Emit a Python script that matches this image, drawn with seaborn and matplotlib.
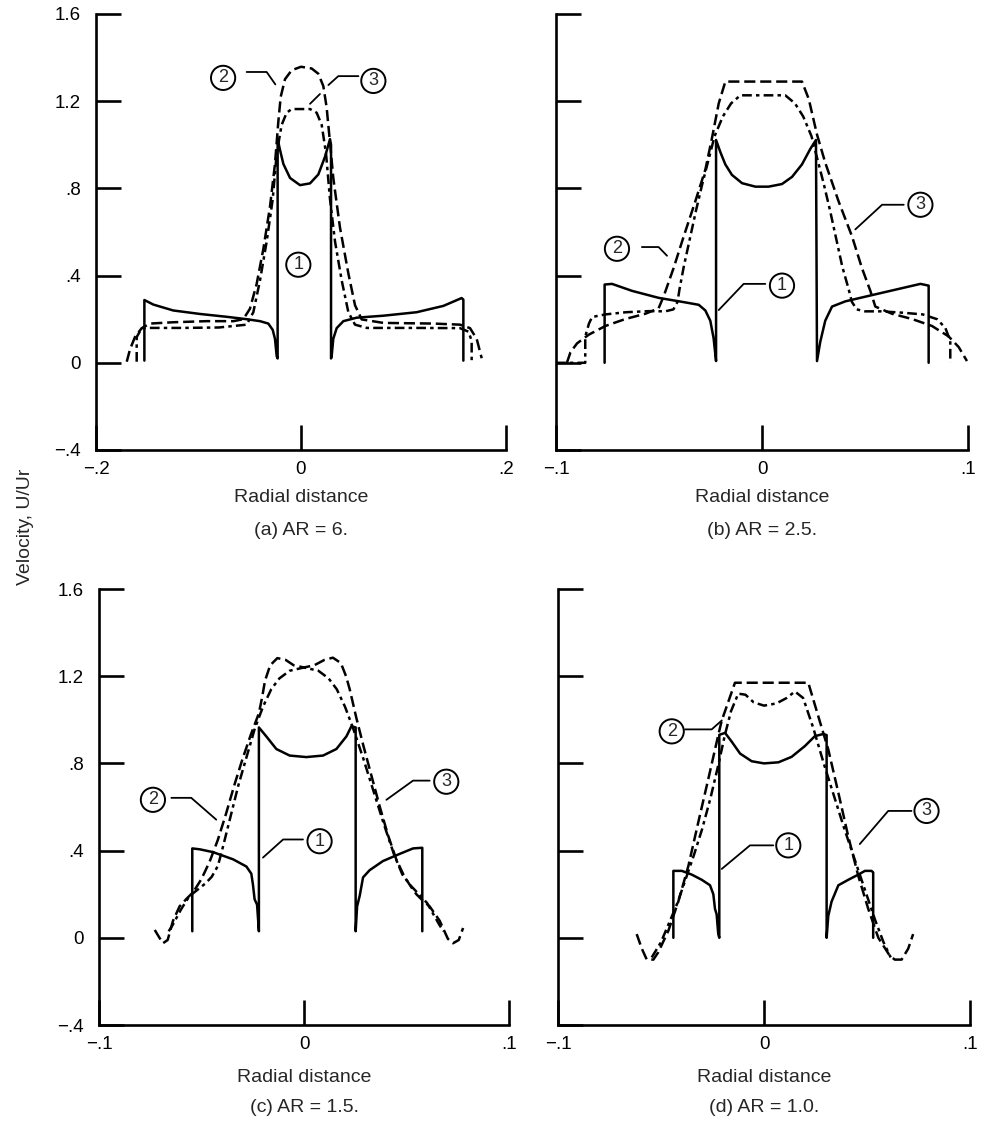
import numpy as np
import pandas as pd
import matplotlib
matplotlib.use("Agg")
import matplotlib.pyplot as plt
import seaborn as sns

sns.set_style("ticks")
plt.rcParams['font.family'] = ['Liberation Sans', 'DejaVu Sans']
plt.rcParams['lines.scale_dashes'] = False
plt.rcParams['axes.unicode_minus'] = True

# ---------------- data ----------------
# Panel (a) AR = 6
a1_x = [-0.1528, -0.1528, -0.144, -0.1246, -0.0985, -0.0725, -0.053, -0.04, -0.0319, -0.0276, -0.0254, -0.0237,
        -0.0228, -0.0228, -0.0205, -0.0172, -0.0107, -0.001, 0.0088, 0.0169, 0.0234, 0.0283, 0.0293, 0.0293,
        0.0299, 0.0315, 0.0348, 0.0413, 0.0543, 0.0803, 0.1128, 0.1389, 0.1567, 0.1584, 0.1584]
a1_y = [0.01, 0.288, 0.267, 0.24, 0.224, 0.211, 0.2, 0.191, 0.18, 0.151, 0.11, 0.03,
        0.02, 1.026, 0.977, 0.912, 0.848, 0.815, 0.823, 0.864, 0.945, 1.026, 1.0, 0.02,
        0.03, 0.11, 0.159, 0.191, 0.207, 0.216, 0.232, 0.261, 0.297, 0.29, 0.01]
a2_x = [-0.170, -0.1668, -0.162, -0.1554, -0.1473, -0.1246, -0.092, -0.066, -0.0563, -0.0498, -0.0433, -0.0367,
        -0.0302, -0.0254, -0.0221, -0.0198, -0.0156, -0.0091, 0.0, 0.0104, 0.0169, 0.0218, 0.025, 0.0283,
        0.0315, 0.038, 0.0462, 0.0527, 0.0592, 0.0803, 0.1291, 0.1551, 0.1649, 0.1714, 0.1763]
a2_y = [0.005, 0.062, 0.118, 0.159, 0.18, 0.186, 0.191, 0.191, 0.2, 0.248, 0.361, 0.523,
        0.718, 0.912, 1.107, 1.22, 1.301, 1.342, 1.358, 1.35, 1.326, 1.269, 1.172, 1.01,
        0.848, 0.621, 0.41, 0.264, 0.199, 0.183, 0.18, 0.175, 0.159, 0.11, 0.021]
a3_x = [-0.1603, -0.1603, -0.1554, -0.1473, -0.1148, -0.08, -0.053, -0.0465, -0.04, -0.0335, -0.0276, -0.0237,
        -0.0189, -0.014, -0.0091, 0.0088, 0.0153, 0.0202, 0.0244, 0.0283, 0.0332, 0.0397, 0.0462, 0.0527,
        0.0641, 0.1128, 0.1551, 0.1633, 0.1665, 0.1665]
a3_y = [0.005, 0.118, 0.159, 0.16, 0.16, 0.162, 0.175, 0.232, 0.378, 0.556, 0.75, 0.961,
        1.091, 1.147, 1.164, 1.164, 1.147, 1.091, 0.961, 0.75, 0.556, 0.378, 0.232, 0.175,
        0.16, 0.16, 0.159, 0.143, 0.102, 0.005]

# Panel (b) AR = 2.5
b1_x = [-0.0764, -0.0764, -0.0728, -0.0631, -0.0502, -0.0372, -0.0307, -0.0275, -0.0251, -0.0235, -0.0223,
        -0.0223, -0.0202, -0.0178, -0.0146, -0.0097, -0.0032, 0.0032, 0.0097, 0.0146, 0.0194, 0.0235, 0.0262,
        0.0267, 0.0283, 0.0307, 0.034, 0.0405, 0.055, 0.0696, 0.0769, 0.0809, 0.0809]
b1_y = [0.0, 0.359, 0.362, 0.33, 0.298, 0.277, 0.266, 0.24, 0.193, 0.113, 0.008,
        1.022, 0.966, 0.91, 0.862, 0.824, 0.808, 0.808, 0.82, 0.853, 0.91, 0.982, 1.022,
        0.008, 0.097, 0.193, 0.258, 0.282, 0.314, 0.346, 0.362, 0.354, 0.0]
b2_x = [-0.0947, -0.093, -0.0898, -0.0841, -0.076, -0.0663, -0.0566, -0.0502, -0.0477, -0.0429, -0.038,
        -0.0324, -0.0275, -0.0243, -0.021, -0.0178, 0.0194, 0.0227, 0.0267, 0.0307, 0.0372, 0.0437, 0.0485,
        0.0526, 0.055, 0.0631, 0.0728, 0.0825, 0.0906, 0.0955, 0.0995]
b2_y = [0.0, 0.048, 0.089, 0.129, 0.169, 0.201, 0.225, 0.25, 0.306, 0.435, 0.58,
        0.74, 0.886, 1.03, 1.19, 1.29, 1.29, 1.21, 1.047, 0.918, 0.74, 0.58, 0.435,
        0.33, 0.258, 0.225, 0.201, 0.169, 0.121, 0.072, 0.008]
b3_x = [-0.1, -0.0858, -0.0858, -0.084, -0.0825, -0.076, -0.066, -0.055, -0.047, -0.043, -0.041, -0.040,
        -0.038, -0.035, -0.032, -0.029, -0.026, -0.023, -0.019, -0.015, -0.0105, 0.0113, 0.016, 0.02, 0.024,
        0.027, 0.030, 0.033, 0.036, 0.039, 0.042, 0.0436, 0.046, 0.05, 0.058, 0.068, 0.078, 0.085, 0.089,
        0.0914, 0.0914]
b3_y = [0.0, 0.0, 0.12, 0.18, 0.21, 0.222, 0.232, 0.237, 0.236, 0.245, 0.28, 0.34,
        0.44, 0.57, 0.7, 0.82, 0.93, 1.04, 1.13, 1.19, 1.227, 1.227, 1.19, 1.13, 1.04,
        0.93, 0.82, 0.7, 0.57, 0.44, 0.34, 0.28, 0.245, 0.236, 0.236, 0.23, 0.222, 0.2, 0.16,
        0.1, 0.0]

# Panel (c) AR = 1.5
c1_x = [-0.0545, -0.0545, -0.0509, -0.0444, -0.0346, -0.0281, -0.0257, -0.0249, -0.0241, -0.0229, -0.022,
        -0.022, -0.0184, -0.0135, -0.007, 0.0011, 0.0093, 0.0158, 0.0207, 0.0231, 0.0252, 0.0252, 0.0259,
        0.0272, 0.0288, 0.032, 0.0385, 0.0467, 0.0532, 0.0577, 0.0577]
c1_y = [0.03, 0.41, 0.406, 0.393, 0.36, 0.327, 0.294, 0.244, 0.177, 0.152, 0.03,
        0.965, 0.924, 0.866, 0.836, 0.829, 0.836, 0.866, 0.924, 0.97, 0.965, 0.03, 0.144,
        0.194, 0.277, 0.31, 0.352, 0.385, 0.41, 0.413, 0.03]
c2_x = [-0.0728, -0.0705, -0.0688, -0.0665, -0.0639, -0.0607, -0.0574, -0.054, -0.05, -0.046, -0.042, -0.038,
        -0.034, -0.03, -0.026, -0.022, -0.0205, -0.019, -0.0165, -0.013, -0.009, -0.005, 0.0, 0.005, 0.01,
        0.0141, 0.018, 0.0205, 0.0223, 0.0255, 0.029, 0.033, 0.037, 0.041, 0.045, 0.049, 0.0525, 0.0548,
        0.058, 0.0613, 0.0662, 0.0702, 0.0727, 0.0755, 0.0776]
c2_y = [0.036, 0.0, -0.025, -0.01, 0.078, 0.144, 0.178, 0.21, 0.27, 0.35, 0.45, 0.57,
        0.7, 0.82, 0.93, 1.03, 1.1, 1.18, 1.25, 1.283, 1.275, 1.25, 1.24, 1.25, 1.275,
        1.285, 1.26, 1.2, 1.14, 1.01, 0.88, 0.74, 0.6, 0.47, 0.36, 0.28, 0.23, 0.2,
        0.17, 0.144, 0.078, -0.005, -0.025, -0.01, 0.045]
c3_x = [-0.066, -0.064, -0.06, -0.056, -0.052, -0.048, -0.045, -0.042, -0.04, -0.036, -0.032, -0.028, -0.024,
        -0.02, -0.016, -0.012, -0.007, 0.0, 0.007, 0.012, 0.016, 0.02, 0.024, 0.029, 0.034, 0.039, 0.044,
        0.048, 0.052, 0.056, 0.06, 0.063, 0.066, 0.068]
c3_y = [0.03, 0.06, 0.13, 0.19, 0.22, 0.25, 0.28, 0.33, 0.4, 0.55, 0.7, 0.83, 0.96,
        1.06, 1.14, 1.19, 1.225, 1.24, 1.225, 1.19, 1.14, 1.06, 0.96, 0.82, 0.67, 0.52, 0.38,
        0.29, 0.24, 0.2, 0.16, 0.11, 0.06, 0.03]

# Panel (d) AR = 1.0
d1_x = [-0.044, -0.044, -0.0399, -0.0351, -0.0302, -0.0262, -0.0246, -0.0238, -0.023, -0.0222, -0.0217,
        -0.0217, -0.0189, -0.0157, -0.0116, -0.006, 0.0, 0.007, 0.0134, 0.0199, 0.0247, 0.0288, 0.0304,
        0.0304, 0.0312, 0.0328, 0.0361, 0.0409, 0.0458, 0.049, 0.0522, 0.053, 0.053]
d1_y = [0.0, 0.307, 0.307, 0.29, 0.266, 0.241, 0.2, 0.133, 0.108, 0.017, 0.0,
        0.931, 0.94, 0.9, 0.845, 0.81, 0.8, 0.805, 0.83, 0.88, 0.925, 0.935, 0.93,
        0.0, 0.1, 0.166, 0.241, 0.266, 0.29, 0.307, 0.307, 0.3, 0.0]
d2_x = [-0.0618, -0.0593, -0.0569, -0.0537, -0.0513, -0.0464, -0.0416, -0.0367, -0.0319, -0.027, -0.0222,
        -0.0205, -0.0141, 0.0215, 0.028, 0.0312, 0.0361, 0.0409, 0.0458, 0.0506, 0.0555, 0.0611, 0.0635,
        0.0668, 0.07, 0.0724]
d2_y = [0.017, -0.05, -0.1, -0.1, -0.066, 0.033, 0.166, 0.33, 0.53, 0.73, 0.93,
        0.997, 1.17, 1.17, 0.964, 0.864, 0.665, 0.465, 0.283, 0.133, 0.0, -0.083, -0.1,
        -0.1, -0.05, 0.017]
d3_x = [-0.0545, -0.05, -0.046, -0.042, -0.038, -0.034, -0.03, -0.026, -0.022, -0.019, -0.016, -0.0125,
        -0.009, -0.005, 0.0, 0.006, 0.011, 0.015, 0.019, 0.024, 0.029, 0.034, 0.039, 0.044, 0.049, 0.054,
        0.058, 0.0615]
d3_y = [-0.09, -0.02, 0.07, 0.16, 0.27, 0.38, 0.5, 0.64, 0.8, 0.93, 1.04, 1.12,
        1.115, 1.08, 1.065, 1.075, 1.1, 1.13, 1.1, 0.96, 0.8, 0.65, 0.5, 0.36, 0.22, 0.08,
        -0.02, -0.09]

y_ticks = [-0.4, 0.0, 0.4, 0.8, 1.2, 1.6]
y_ticklabels = ["\u2212.4", "0", ".4", ".8", "1.2", "1.6"]
xticks_a = [-0.2, 0.0, 0.2]
xticklabels_a = ["\u2212.2", "0", ".2"]
xticks_b = [-0.1, 0.0, 0.1]
xticklabels_b = ["\u2212.1", "0", ".1"]
panel_titles = ["(a) AR = 6.", "(b) AR = 2.5.", "(c) AR = 1.5.", "(d) AR = 1.0."]

# ---------------- figure ----------------
W, H = 981, 1132
fig = plt.figure(figsize=(W / 100, H / 100), dpi=100)

rects = [
    [96 / W, 1 - 450 / H, 410 / W, 436 / H],
    [556 / W, 1 - 450 / H, 412 / W, 436 / H],
    [99 / W, 1 - 1025 / H, 410 / W, 436 / H],
    [558 / W, 1 - 1025 / H, 412 / W, 436 / H],
]

FS = 14
TFS = 13.5
LW = 1.8
styles = {1: dict(linestyle='-'),
          2: dict(linestyle=(0, (8, 3.5))),
          3: dict(linestyle=(0, (7, 3, 2.5, 3)))}

panels = [
    ((a1_x, a1_y), (a2_x, a2_y), (a3_x, a3_y)),
    ((b1_x, b1_y), (b2_x, b2_y), (b3_x, b3_y)),
    ((c1_x, c1_y), (c2_x, c2_y), (c3_x, c3_y)),
    ((d1_x, d1_y), (d2_x, d2_y), (d3_x, d3_y)),
]

axes = []
for i, rect in enumerate(rects):
    ax = fig.add_axes(rect)
    axes.append(ax)
    for k, (xs, ys) in enumerate(panels[i], start=1):
        df = pd.DataFrame({"x": xs, "y": ys})
        sns.lineplot(data=df, x="x", y="y", ax=ax, sort=False, estimator=None,
                     color="black", linewidth=LW, **styles[k])
    if i == 0:
        ax.set_xlim(-0.2, 0.2)
        ax.set_xticks(xticks_a)
        ax.set_xticklabels(xticklabels_a)
    else:
        ax.set_xlim(-0.1, 0.1)
        ax.set_xticks(xticks_b)
        ax.set_xticklabels(xticklabels_b)
    ax.set_ylim(-0.4, 1.6)
    ax.set_yticks(y_ticks)
    if i in (0, 2):
        ax.set_yticklabels(y_ticklabels)
    else:
        ax.set_yticklabels([])
    sns.despine(ax=ax, top=True, right=True)
    for s in ("left", "bottom"):
        ax.spines[s].set_linewidth(1.9)
        ax.spines[s].set_color("black")
    ax.tick_params(axis="y", direction="in", length=18, width=1.9, pad=11, labelsize=TFS, colors="black")
    ax.tick_params(axis="x", direction="in", length=18, width=1.9, pad=8, labelsize=TFS, colors="black")
    ax.set_ylabel("")
    ax.set_xlabel("")
    if i < 2:
        off1, off2 = -48 / 436, -81 / 436
    else:
        off1, off2 = -52 / 436, -83 / 436
    ax.text(0.5, off1, "Radial distance", transform=ax.transAxes, ha="center", va="center", fontsize=FS)
    ax.text(0.5, off2, panel_titles[i], transform=ax.transAxes, ha="center", va="center", fontsize=FS)


def label(ax, x, y, s):
    ax.text(x, y, s, ha="center", va="center", fontsize=13, zorder=10,
            bbox=dict(boxstyle="circle,pad=0.2", fc="white", ec="black", lw=1.4))


def leader(ax, xs, ys):
    ax.plot(xs, ys, color="black", lw=1.3, zorder=9)


ax = axes[0]
label(ax, -0.076, 1.307, "2")
leader(ax, [-0.053, -0.0335, -0.025], [1.334, 1.334, 1.277])
label(ax, 0.0706, 1.293, "3")
leader(ax, [0.056, 0.0364, 0.0267], [1.315, 1.315, 1.274])
leader(ax, [0.0185, 0.0088], [1.233, 1.188])
label(ax, -0.0026, 0.45, "1")

ax = axes[1]
label(ax, -0.0704, 0.523, "2")
leader(ax, [-0.0583, -0.0502, -0.0461], [0.531, 0.531, 0.491])
label(ax, 0.0769, 0.725, "3")
leader(ax, [0.0688, 0.0583, 0.0453], [0.725, 0.725, 0.612])
label(ax, 0.0097, 0.354, "1")
leader(ax, [0.0016, -0.0089, -0.021], [0.362, 0.362, 0.242])

ax = axes[2]
label(ax, -0.0737, 0.633, "2")
leader(ax, [-0.0647, -0.055, -0.0428], [0.642, 0.642, 0.542])
label(ax, 0.0076, 0.443, "1")
leader(ax, [-0.0005, -0.0102, -0.02], [0.451, 0.451, 0.368])
label(ax, 0.0694, 0.716, "3")
leader(ax, [0.0613, 0.0532, 0.0402], [0.721, 0.721, 0.633])

ax = axes[3]
label(ax, -0.0448, 0.947, "2")
leader(ax, [-0.0383, -0.0254, -0.0205], [0.956, 0.956, 0.997])
label(ax, 0.0118, 0.424, "1")
leader(ax, [0.0045, -0.0068, -0.0205], [0.424, 0.424, 0.316])
label(ax, 0.0789, 0.582, "3")
leader(ax, [0.0716, 0.0603, 0.0465], [0.582, 0.582, 0.43])

fig.text(25 / W, 1 - 527 / H, "Velocity, U/Ur", rotation=90, ha="center", va="center", fontsize=FS)

fig.savefig("out.png", dpi=100, facecolor="white")
